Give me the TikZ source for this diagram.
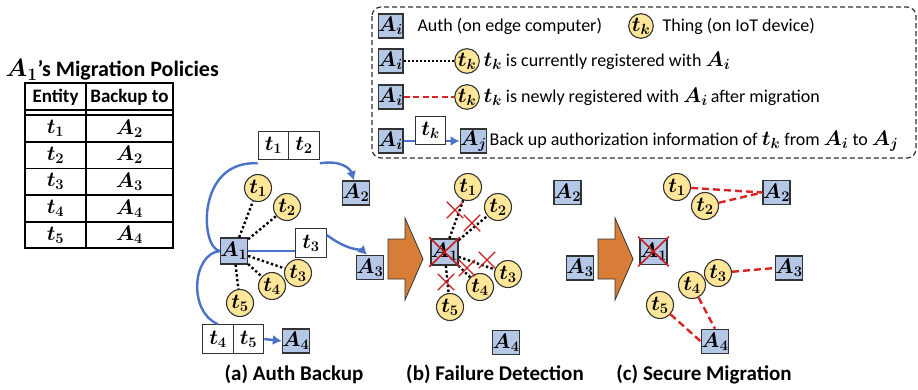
\documentclass[tikz,border=0pt]{standalone}
\usepackage{fix-cm}
\usepackage{amsmath,bm}
\usepackage{fontspec}
\setmainfont{Carlito}
\usetikzlibrary{arrows.meta,shapes.misc}

\definecolor{authfill}{HTML}{B4C7E7}
\definecolor{thingfill}{HTML}{FFE699}
\definecolor{edge}{HTML}{333333}
\definecolor{backupblue}{HTML}{4A72C8}
\definecolor{migred}{HTML}{D82424}
\definecolor{crossred}{HTML}{C41E1E}
\definecolor{blockorange}{HTML}{D77D37}

% bold italic entity labels
\newcommand{\tv}[1]{{\fontsize{21}{24}\selectfont$\bm{t}_{\bm{#1}}$}}
\newcommand{\av}[1]{{\fontsize{21}{24}\selectfont$\bm{A}_{\bm{#1}}$}}

\begin{document}
\begin{tikzpicture}[x=1pt,y=-1pt,
  every node/.style={font=\fontsize{18}{21}\selectfont},
  auth/.style={draw=edge, fill=authfill, line width=1.3pt, minimum width=24pt, minimum height=24pt, inner sep=0pt},
  thing/.style={circle, draw=edge, fill=thingfill, line width=1.1pt, minimum size=27pt, inner sep=0pt},
  smallthing/.style={thing, minimum size=24pt},
  cell/.style={draw=edge, fill=white, line width=1.1pt, minimum width=30.5pt, minimum height=28.5pt, inner sep=0pt},
  reg/.style={line width=2.4pt, dash pattern=on 2.4pt off 2.4pt, black},
  newreg/.style={line width=2.4pt, dash pattern=on 7pt off 4pt, migred},
  backupline/.style={line width=2.4pt, backupblue},
  backup/.style={backupline, -{Latex[length=9pt,width=10pt]}},
  xmark/.style={cross out, draw=crossred, line width=1.3pt, minimum size=15pt, inner sep=0pt},
  bigx/.style={cross out, draw=crossred, line width=1.6pt, minimum width=29pt, minimum height=28pt, inner sep=0pt},
  tabrule/.style={line width=1.3pt, black},
  tabhead/.style={font=\fontsize{19}{22}\selectfont\bfseries},
  caption/.style={font=\fontsize{21}{25}\selectfont\bfseries},
  block/.style={fill=blockorange, draw=edge, line width=0.8pt}
]
\useasboundingbox (0,0) rectangle (918,389);

% ---------------- migration policy table ----------------
\node[anchor=west, font=\fontsize{22}{26}\selectfont\bfseries] (title) at (2,70)
  {{\fontsize{25}{28}\selectfont$\bm{A}_{\bm{1}}$}'s Migration Policies};
\draw[tabrule] (25,83) rectangle (173,248);
\draw[tabrule] (86,83) -- (86,248);
\foreach \yy in {110,115,142,168.5,195,222}
  \draw[tabrule] (25,\yy) -- (173,\yy);
\node[tabhead] (hent) at (55.5,97) {Entity};
\node[tabhead] (hbak) at (129.5,97) {Backup to};
\foreach \i/\a/\yy in {1/2/128.5, 2/2/155, 3/3/181.5, 4/4/208.5, 5/4/235} {
  \node (pt\i) at (55.5,\yy) {\tv{\i}};
  \node (pa\i) at (129.5,\yy) {\av{\a}};
}

% ---------------- legend ----------------
\draw[line width=1.2pt, dash pattern=on 5pt off 3pt, rounded corners=9pt, edge]
  (372,7) rectangle (916,158);
\node[auth] (LA1) at (390.5,26) {\av{i}};
\node[anchor=west] (Lauth) at (414,26) {Auth (on edge computer)};
\node[smallthing] (LT1) at (641,26) {\tv{k}};
\node[anchor=west] (Lthing) at (659,26) {Thing (on IoT device)};

\node[auth] (LA2) at (390.5,61) {\av{i}};
\node[smallthing] (LT2) at (467,61) {\tv{k}};
\draw[reg, line width=2pt, dash pattern=on 2pt off 2pt] (LA2) -- (LT2);
\node[anchor=west] (Lcur) at (480,61) {\tv{k} is currently registered with \av{i}};

\node[auth] (LA3) at (390.5,97) {\av{i}};
\node[smallthing] (LT3) at (467,97) {\tv{k}};
\draw[newreg, dash pattern=on 6pt off 3.5pt] (LA3) -- (LT3);
\node[anchor=west] (Lnew) at (480,97) {\tv{k} is newly registered with \av{i}\,after migration};

\node[auth] (LA4) at (390.5,141) {\av{i}};
\node[auth] (LAj) at (473.5,141) {\av{j}};
\draw[backup] (LA4) -- (LAj);
\node[cell] (LTk) at (430.5,130.5) {\tv{k}};
\node[anchor=west] (Lback) at (486,141)
  {Back up authorization information of \tv{k} from \av{i} to \av{j}};

% ---------------- (a) Auth backup ----------------
\node[auth, minimum height=26pt] (A1a) at (234,251) {\av{1}};
\node[auth] (A2a) at (356,193) {\av{2}};
\node[auth] (A3a) at (370,267.5) {\av{3}};
\node[auth] (A4a) at (296,341) {\av{4}};
\node[thing] (t1a) at (258,188) {\tv{1}};
\node[thing] (t2a) at (287,207) {\tv{2}};
\node[thing] (t3a) at (298,273) {\tv{3}};
\node[thing] (t4a) at (272,286) {\tv{4}};
\node[thing] (t5a) at (240,303) {\tv{5}};
\foreach \t in {1,...,5} \draw[reg] (A1a) -- (t\t a);

\node[cell] (c1) at (273.5,145.5) {\tv{1}};
\node[cell] (c2) at (304,145.5) {\tv{2}};
\node[cell] (c3) at (311,243) {\tv{3}};
\node[cell] (c4) at (218,339) {\tv{4}};
\node[cell] (c5) at (248.5,339) {\tv{5}};

\draw[backupline] (A1a.west) .. controls (200,248) and (196,160) .. ([yshift=-3pt]c1.south west);
\draw[backup] ([yshift=-3pt]c2.south east) .. controls (340,160) and (350,168) .. ([xshift=-2pt]A2a.north);
\draw[backupline] (A1a.east) -- (c3.west |- A1a.east);
\draw[backup] ([yshift=8pt]c3.east) .. controls (348,251) and (362,250) .. ([xshift=-3pt]A3a.north);
\draw[backupline] (A1a.west) .. controls (192,254) and (188,312) .. (c4.north);
\draw[backup] (c5.east) -- (A4a.west);

\node[caption] (capa) at (294,374) {(a) Auth Backup};

% ---------------- (b) Failure detection ----------------
\filldraw[block] (388,239) -- (405,239) -- (405,218) -- (423,259) -- (405,300) -- (405,279) -- (388,279) -- cycle;
\node[auth, minimum height=26pt] (A1b) at (444.5,252) {\av{1}};
\node[auth] (A2b) at (567.5,192.5) {\av{2}};
\node[auth] (A3b) at (580,268) {\av{3}};
\node[auth] (A4b) at (506,342.5) {\av{4}};
\node[thing] (t1b) at (468,187) {\tv{1}};
\node[thing] (t2b) at (498,207) {\tv{2}};
\node[thing] (t3b) at (508,274) {\tv{3}};
\node[thing] (t4b) at (480,287) {\tv{4}};
\node[thing] (t5b) at (450,307) {\tv{5}};
\foreach \t in {1,...,5} \draw[reg] (A1b) -- (t\t b);
\node[bigx] (xA1) at (A1b) {};
\node[xmark] (x1) at (455,210) {};
\node[xmark] (x2) at (472,223) {};
\node[xmark] (x3) at (487,260) {};
\node[xmark] (x4) at (467,268) {};
\node[xmark] (x5) at (446,282) {};

\node[caption] (capb) at (495,374) {(b) Failure Detection};

% ---------------- (c) Secure migration ----------------
\filldraw[block] (598,239) -- (615,239) -- (615,218) -- (633,259) -- (615,300) -- (615,279) -- (598,279) -- cycle;
\node[auth, minimum height=26pt] (A1c) at (653.5,251.5) {\av{1}};
\node[bigx] (xA1c) at (A1c) {};
\node[auth] (A2c) at (776.5,192.5) {\av{2}};
\node[auth] (A3c) at (789,268) {\av{3}};
\node[auth] (A4c) at (715,341.5) {\av{4}};
\node[thing] (t1c) at (677,187) {\tv{1}};
\node[thing] (t2c) at (705,206) {\tv{2}};
\node[thing] (t3c) at (718,273) {\tv{3}};
\node[thing] (t4c) at (692,285) {\tv{4}};
\node[thing] (t5c) at (660,305) {\tv{5}};
\draw[newreg] (t1c) -- (A2c.west);
\draw[newreg] (t2c) -- (A2c.west);
\draw[newreg] (t3c) -- (A3c.west);
\draw[newreg] (t4c) -- (A4c.north);
\draw[newreg] (t5c) -- (A4c.west);

\node[caption] (capc) at (704,374) {(c) Secure Migration};
\end{tikzpicture}
\end{document}
